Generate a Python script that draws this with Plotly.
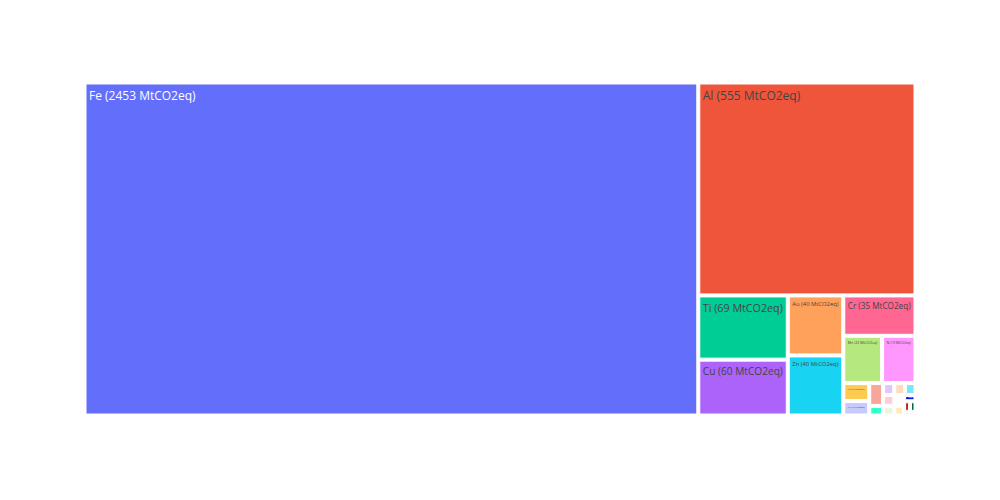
import plotly.graph_objects as go

metals = ["Fe", "Al", "Ti", "Cu", "Au", "Zn", "Cr", "Mn", "Ni", "Pb", "Ag", "Sn", "Mo",
          "Co", "Mg", "Li", "Sb", "W", "V", "Pt", "Pd", "Nb", "Ta", "Rh"]
emissions = [2453, 555, 69, 60, 40, 40, 35, 22, 19, 5.6, 4.5, 3.8, 1.6,
             1.6, 1.55, 1.5, 1.45, 1.3, 1.25, 1.15, 0.85, 0.75, 0.7, 0.5]

labels = [f"{m} ({v:g} MtCO2eq)" for m, v in zip(metals, emissions)]
parents = [""] * len(labels)

fig = go.Figure(go.Treemap(
    labels=labels,
    parents=parents,
    values=emissions,
))
fig.update_layout(width=1000, height=500, margin=dict(t=60, l=80, r=80, b=80))
fig.write_html("out.html")
